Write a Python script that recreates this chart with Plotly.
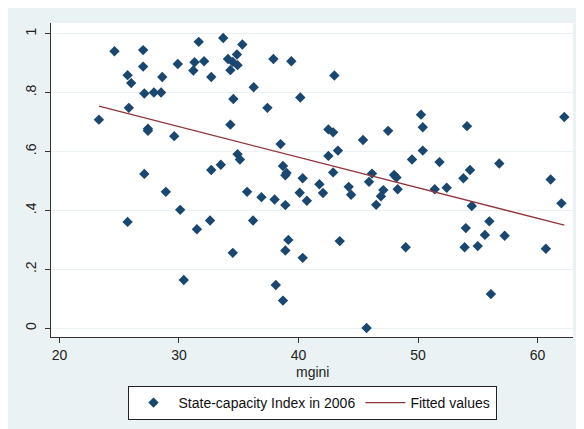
import numpy as np
import plotly.graph_objects as go

# ---- data ----
mgini = [23.3, 24.6, 27.0, 27.0, 25.7, 26.0, 27.1, 27.9, 28.5, 28.6,
         29.9, 25.8, 27.4, 27.4, 29.6, 31.65, 33.7, 31.3, 31.2, 32.1,
         32.7, 34.1, 34.5, 34.9, 34.3, 35.3, 34.85, 37.9, 39.4, 43.0,
         36.25, 34.55, 40.15, 37.4, 34.3, 42.5, 42.9, 45.4, 47.5, 38.5,
         34.9, 35.1, 42.5, 43.3, 38.7, 39.0, 38.9, 40.35, 42.9, 46.15,
         48.0, 48.2, 27.1, 32.7, 33.5, 50.25, 50.4, 54.1, 62.24, 50.4,
         49.5, 51.8, 54.35, 56.8, 53.8, 61.1, 48.3, 51.4, 52.4, 54.5,
         62.0, 55.97, 54.0, 55.6, 57.25, 48.97, 53.9, 55.0, 60.7, 56.1,
         41.75, 42.05, 40.1, 40.7, 35.7, 36.9, 38.0, 38.9, 44.2, 44.4,
         45.9, 47.1, 46.9, 46.5, 36.2, 34.5, 39.15, 38.9, 40.35, 43.45,
         38.1, 38.7, 45.7, 28.9, 30.1, 25.7, 31.5, 32.6, 30.4]
state_capacity = [0.708, 0.940, 0.944, 0.888, 0.859, 0.832, 0.797, 0.800, 0.800, 0.853,
                  0.897, 0.748, 0.677, 0.670, 0.652, 0.972, 0.985, 0.903, 0.875, 0.906,
                  0.853, 0.914, 0.904, 0.893, 0.876, 0.963, 0.929, 0.914, 0.906, 0.858,
                  0.818, 0.778, 0.783, 0.748, 0.691, 0.675, 0.665, 0.639, 0.670, 0.625,
                  0.591, 0.573, 0.585, 0.603, 0.551, 0.527, 0.519, 0.509, 0.529, 0.525,
                  0.520, 0.512, 0.524, 0.537, 0.555, 0.725, 0.682, 0.686, 0.717, 0.603,
                  0.573, 0.564, 0.537, 0.559, 0.509, 0.505, 0.472, 0.472, 0.477, 0.415,
                  0.424, 0.363, 0.340, 0.317, 0.314, 0.275, 0.275, 0.279, 0.270, 0.116,
                  0.489, 0.459, 0.460, 0.433, 0.463, 0.445, 0.437, 0.418, 0.480, 0.453,
                  0.497, 0.469, 0.448, 0.419, 0.366, 0.256, 0.300, 0.264, 0.239, 0.296,
                  0.147, 0.094, 0.001, 0.463, 0.402, 0.361, 0.336, 0.366, 0.164]

x_ticks = [20, 30, 40, 50, 60]
y_ticks = [0, 0.2, 0.4, 0.6, 0.8, 1]
y_tick_labels = ["0", ".2", ".4", ".6", ".8", "1"]

series_names = ["State-capacity Index in 2006", "Fitted values"]
x_title = "mgini"

# ---- fitted values (OLS of the data) ----
x_arr = np.array(mgini)
y_arr = np.array(state_capacity)
slope, intercept = np.polyfit(x_arr, y_arr, 1)
fit_x = np.array([x_arr.min(), x_arr.max()])
fit_y = intercept + slope * fit_x

NAVY = "#1A476F"
MAROON = "#90353B"
BG = "#EAF2F3"
FONT = "Liberation Sans, Arial, sans-serif"

fig = go.Figure()
fig.add_trace(go.Scatter(
    x=mgini, y=state_capacity, mode="markers", name=series_names[0],
    marker=dict(symbol="diamond", size=8, color=NAVY, line=dict(width=0)),
))
fig.add_trace(go.Scatter(
    x=fit_x, y=fit_y, mode="lines", name=series_names[1],
    line=dict(color=MAROON, width=1.3),
))

L, R, T, B = 43, 19, 15, 100
W, H = 584, 429
ph = H - T - B

fig.update_layout(
    width=W, height=H,
    margin=dict(l=L, r=R, t=T, b=B, pad=0, autoexpand=False),
    paper_bgcolor=BG,
    plot_bgcolor="white",
    font=dict(family=FONT, size=14, color="#222222"),
    showlegend=True,
    legend=dict(
        orientation="h", x=0.5, xanchor="center",
        y=-49 / ph, yanchor="top",
        bgcolor="white", bordercolor="#222222", borderwidth=1,
        font=dict(family=FONT, size=14, color="#111111"),
        itemwidth=40,
    ),
    xaxis=dict(
        range=[19.29, 62.97],
        tickvals=x_ticks,
        showgrid=False, zeroline=False, automargin=False,
        showline=True, linecolor="#333333", linewidth=1.2,
        ticks="outside", ticklen=5, tickcolor="#333333",
        tickfont=dict(family=FONT, size=14, color="#222222"),
    ),
    yaxis=dict(
        range=[-0.0295, 1.036],
        tickvals=y_ticks, ticktext=y_tick_labels,
        tickangle=-90, automargin=False,
        ticklabelstandoff=3,
        showgrid=True, gridcolor=BG, gridwidth=1.2,
        zeroline=False,
        showline=True, linecolor="#333333", linewidth=1.2,
        ticks="outside", ticklen=5, tickcolor="#333333",
        tickfont=dict(family=FONT, size=14, color="#222222"),
    ),
    annotations=[
        dict(text=x_title, xref="paper", yref="paper", x=0.5, y=-35 / ph,
             xanchor="center", yanchor="middle", showarrow=False,
             font=dict(family=FONT, size=14, color="#222222")),
    ],
)

fig.write_html("out.html")
